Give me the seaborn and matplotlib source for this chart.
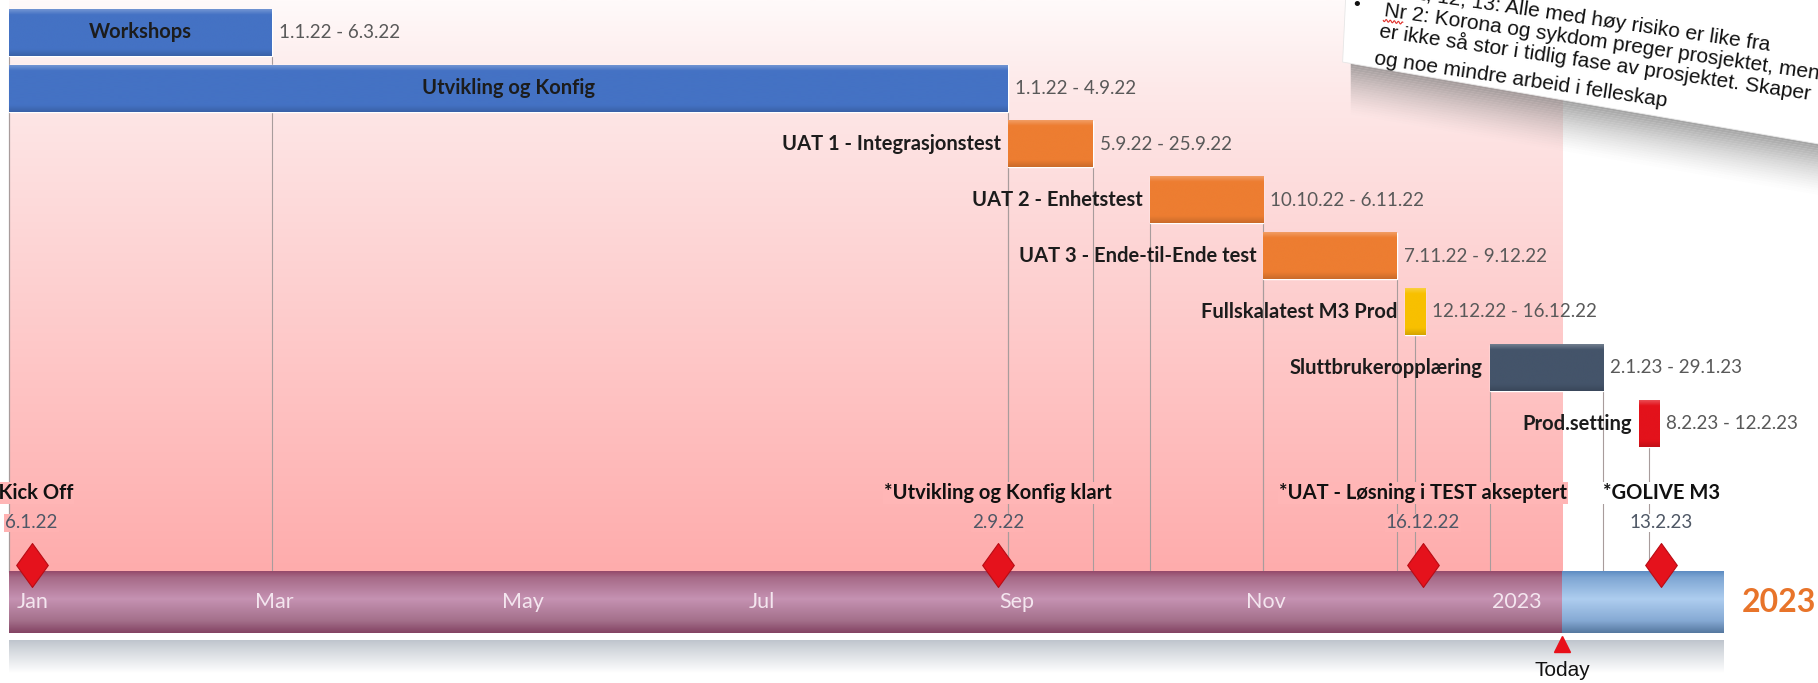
import numpy as np
import pandas as pd
import matplotlib
matplotlib.use("Agg")
import matplotlib.pyplot as plt
import matplotlib.dates as mdates
from matplotlib.colors import LinearSegmentedColormap, to_rgb
from matplotlib.path import Path
from matplotlib.markers import MarkerStyle
from matplotlib.patches import Polygon
import seaborn as sns

# --- data -------------------------------------------------------------
tasks = ["Workshops", "Utvikling og Konfig", "UAT 1 - Integrasjonstest",
         "UAT 2 - Enhetstest", "UAT 3 - Ende-til-Ende test",
         "Fullskalatest M3 Prod", "Sluttbrukeropplæring", "Prod.setting"]
task_start = ["2022-01-01", "2022-01-01", "2022-09-05", "2022-10-10",
              "2022-11-07", "2022-12-12", "2023-01-02", "2023-02-08"]
task_end = ["2022-03-06", "2022-09-04", "2022-09-25", "2022-11-06",
            "2022-12-09", "2022-12-16", "2023-01-29", "2023-02-12"]
task_colors = ["#4472C4", "#4472C4", "#ED7D31", "#ED7D31", "#ED7D31",
               "#F8C000", "#44546A", "#E3121B"]
label_inside = [True, True, False, False, False, False, False, False]

milestones = ["*Kick Off", "*Utvikling og Konfig klart",
              "*UAT - Løsning i TEST akseptert", "*GOLIVE M3"]
milestone_dates = ["2022-01-06", "2022-09-02", "2022-12-16", "2023-02-13"]

month_ticks = ["2022-01-01", "2022-03-01", "2022-05-01", "2022-07-01",
               "2022-09-01", "2022-11-01", "2023-01-01"]
month_labels = ["Jan", "Mar", "May", "Jul", "Sep", "Nov", "2023"]

timeline_start = "2022-01-01"
timeline_end = "2023-03-01"
today = "2023-01-20"

note_lines = ["Nr 1, 12, 13: Alle med høy risiko er like fra",
              "Nr 2: Korona og sykdom preger prosjektet, men",
              "er ikke så stor i tidlig fase av prosjektet. Skaper",
              "og noe mindre arbeid i felleskap"]

# --- layout (y in px of a 1568x589 canvas, top = 0) -------------------
W, H = 1568, 589
ROW0, PITCH, BAR_H = 28, 48.2, 40
TL_TOP, TL_BOT = 493, 546
MS_LABEL_Y, MS_DATE_Y, MS_Y = 425, 451, 487


def d(s):
    return mdates.date2num(pd.Timestamp(s))


def fmt(s):
    t = pd.Timestamp(s)
    return f"{t.day}.{t.month}.{t.year % 100}"


def shade(c, f):
    r = np.array(to_rgb(c))
    return tuple(r + (1 - r) * f) if f > 0 else tuple(r * (1 + f))


def gradient(ax, x0, x1, y0, y1, stops, z):
    cmap = LinearSegmentedColormap.from_list("g", stops)
    arr = np.linspace(0, 1, 256).reshape(-1, 1)
    ax.imshow(arr, cmap=cmap, extent=(x0, x1, y1, y0), origin="upper",
              aspect="auto", zorder=z, interpolation="bilinear")
    return cmap


sns.set_theme(style="white")
plt.rcParams["font.family"] = ["Lato", "DejaVu Sans"]

fig = plt.figure(figsize=(18.18, 6.83), dpi=100)
ax = fig.add_axes([0, 0, 1, 1])
ax.set_axis_off()

t0 = d(timeline_start)
t_today = d(today)
t_end = d(timeline_end)

# pink background up to today
bg = gradient(ax, t0, t_today, 0, TL_TOP,
              [(0, "#fffafa"), (0.15, "#fde9e9"), (1, "#ffacac")], 0)


def bg_at(x, y):
    return bg(y / TL_TOP) if t0 <= x <= t_today else "white"


# task bars
starts = np.array([d(s) for s in task_start])
ends = np.array([d(s) + 1 for s in task_end])
rows = ROW0 + PITCH * np.arange(len(tasks))
bars = ax.barh(rows, ends - starts, left=starts, height=BAR_H,
               color=task_colors, zorder=3)
for p, c in zip(bars.patches, task_colors):
    gradient(ax, p.get_x(), p.get_x() + p.get_width(), p.get_y(),
             p.get_y() + p.get_height(),
             [(0, shade(c, 0.25)), (0.12, c), (0.85, c), (1, shade(c, -0.15))], 3)

# drop lines from the bars to the timeline
for s, e, r in zip(starts, ends, rows):
    xs = [(s + e) / 2] if e - s <= 7 else [s, e]
    ax.vlines(xs, r + BAR_H / 2, TL_TOP, colors="#a89c9c", lw=0.8, zorder=1)

for name, s, e, r, inside, s_txt, e_txt in zip(tasks, starts, ends, rows, label_inside,
                                               task_start, task_end):
    if inside:
        ax.text((s + e) / 2, r, name, ha="center", va="center",
                fontsize=14.5, fontweight="bold", color="#1c1c1c", zorder=4)
    else:
        ax.annotate(name, (s, r), xytext=(-5, 0), textcoords="offset points",
                    ha="right", va="center", fontsize=14.5,
                    fontweight="bold", color="#1c1c1c", zorder=4)
    ax.annotate(f"{fmt(s_txt)} - {fmt(e_txt)}", (e, r), xytext=(5, 0),
                textcoords="offset points", ha="left", va="center",
                fontsize=13.5, color="#595959", zorder=4)

# timeline bar
tl = ax.barh([(TL_TOP + TL_BOT) / 2] * 2, [t_today - t0, t_end - t_today],
             left=[t0, t_today], height=TL_BOT - TL_TOP,
             color=["#b07a96", "#8fb4dd"], zorder=2)
tl_stops = [
    [(0, "#95496a"), (0.1, "#a66a87"), (0.45, "#c592b2"), (0.8, "#a4708b"), (1, "#834363")],
    [(0, "#5d8cc2"), (0.1, "#7ea6d3"), (0.45, "#aecdef"), (0.8, "#86aad4"), (1, "#55789f")],
]
for p, st in zip(tl.patches, tl_stops):
    gradient(ax, p.get_x(), p.get_x() + p.get_width(), p.get_y(),
             p.get_y() + p.get_height(), st, 2)

# shadow under the timeline
gradient(ax, t0, t_end, 552, 580,
         [(0, "#bfc5cd"), (0.35, "#d7dbe0"), (1, "#ffffff")], 1)

for m, lab in zip(month_ticks, month_labels):
    ax.annotate(lab, (d(m), (TL_TOP + TL_BOT) / 2), xytext=(5, 0),
                textcoords="offset points", ha="left", va="center",
                fontsize=15.5, color="#f4e6ef", zorder=4)

# milestones
ms_x = [d(m) + 0.5 for m in milestone_dates]
diamond = Path([(0, 1), (0.72, 0), (0, -1), (-0.72, 0), (0, 1)],
               [Path.MOVETO, Path.LINETO, Path.LINETO, Path.LINETO, Path.CLOSEPOLY])
sns.scatterplot(x=ms_x, y=[MS_Y] * len(ms_x), marker=MarkerStyle(diamond),
                s=1000, color="#e5121c", edgecolor="#b80c14", linewidth=0.8,
                zorder=6, legend=False, ax=ax)
for name, m, x in zip(milestones, milestone_dates, ms_x):
    ax.text(x, MS_LABEL_Y, name, ha="center", va="center", fontsize=14.5,
            fontweight="bold", color="#111111", zorder=4,
            bbox=dict(boxstyle="square,pad=0.05", fc=bg_at(x, MS_LABEL_Y), ec="none"))
    ax.text(x, MS_DATE_Y, fmt(m), ha="center", va="center", fontsize=13.5,
            color="#4f5866", zorder=4,
            bbox=dict(boxstyle="square,pad=0.05", fc=bg_at(x, MS_DATE_Y), ec="none"))

# today marker
ax.plot([t_today], [555], marker="^", ms=12, color="#e8101a", zorder=6)
ax.text(t_today, 578, "Today", ha="center", va="center", fontsize=15,
        family="Liberation Sans", color="#111111", zorder=6)

ax.set_xlim(t0 - 2.3, t0 + 447.2)
ax.set_ylim(H, 0)

# overlay in canvas pixels: year tag and the pasted note
ax2 = fig.add_axes([0, 0, 1, 1])
ax2.set_axis_off()
ax2.set_xlim(0, W)
ax2.set_ylim(H, 0)
ax2.text(1502, 520, "2023", ha="left", va="center", fontsize=23,
         fontweight="bold", color="#E8742A")

ROT = 8.3
SLOPE = np.tan(np.radians(ROT))


def edge(x):
    return 53.5 + (x - 1158) * 0.172


n = 22
for i in range(n):
    a = 0.6 * (1 - i / n) ** 1.4
    xs = [1165, 1640, 1640, 1165]
    ys = [edge(1165) + i * 2, edge(1640) + i * 2,
          edge(1640) + (i + 1) * 2, edge(1165) + (i + 1) * 2]
    ax2.add_patch(Polygon(list(zip(xs, ys)), closed=True, fc="#6a6a6a",
                          ec="none", alpha=a, zorder=1))
ax2.add_patch(Polygon([(1161, -10), (1640, -10), (1640, edge(1640)), (1158, edge(1158))],
                      closed=True, fc="white", ec="#e6e6e6", lw=0.6, zorder=2))
ax2.text(1170, 5, "•", fontsize=14, family="Liberation Sans", color="#111111",
         ha="center", va="center", zorder=3)
note_pos = [(1196, -4), (1193, 14), (1189, 32), (1185, 55)]
for txt, (x, y) in zip(note_lines, note_pos):
    ax2.text(x, y, txt, ha="left", va="baseline", fontsize=15,
             family="Liberation Sans", color="#111111", rotation=-ROT,
             rotation_mode="anchor", zorder=3)
# spell-check squiggle under "Nr"
t = np.linspace(0, 17, 60)
ax2.plot(1193 + t, 14 + 3.5 + t * SLOPE + 1.0 * np.sin(t * 1.8),
         color="#e0302a", lw=0.8, zorder=3)

fig.savefig("out.png", dpi=100)
